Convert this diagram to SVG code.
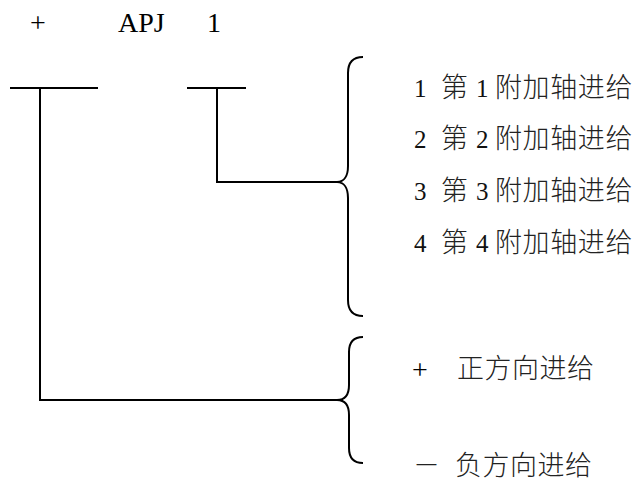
<svg xmlns="http://www.w3.org/2000/svg" width="636" height="482" viewBox="0 0 636 482">
<style>
.ln{fill:none;stroke:#000;stroke-width:2;stroke-linecap:butt;stroke-linejoin:miter}
.hd{font-family:"Liberation Serif","Times New Roman",serif;font-size:28px;fill:#000}
.lat{font-family:"Liberation Serif","Times New Roman",serif;font-size:25px;fill:#111}
.cjk{font-family:"Noto Sans CJK SC","Liberation Sans",sans-serif;font-size:27px;font-weight:300;fill:#222}
.opt{letter-spacing:0.6px}
</style>
<rect width="636" height="482" fill="#fff"/>
<g id="header">
<text class="hd" x="30" y="32">+</text>
<text class="hd" x="118" y="32">APJ</text>
<text class="hd" x="207" y="32">1</text>
</g>
<g id="connectors">
<path class="ln" d="M10,88H98M40,88V400H337"/>
<path class="ln" d="M187,88H246M217,88V182H337"/>
</g>
<g id="brace-axis">
<path class="ln" d="M363,57C352,57 348,63 348,73V166C348,176 344,182 337,182C344,182 348,188 348,198V300C348,310 352,316 363,316"/>
</g>
<g id="brace-direction">
<path class="ln" d="M363,337C353,337 349,343 349,352V385C349,395 345,400 337,400C345,400 349,405 349,415V448C349,457 353,463 363,463"/>
</g>
<g id="axis-options">
<g id="opt1"><text class="lat" x="414" y="97">1</text><text class="cjk" x="441" y="97">第</text><text class="lat" x="476" y="97">1</text><text class="cjk opt" x="495" y="97">附加轴进给</text></g>
<g id="opt2"><text class="lat" x="414" y="148">2</text><text class="cjk" x="441" y="148">第</text><text class="lat" x="476" y="148">2</text><text class="cjk opt" x="495" y="148">附加轴进给</text></g>
<g id="opt3"><text class="lat" x="414" y="200">3</text><text class="cjk" x="441" y="200">第</text><text class="lat" x="476" y="200">3</text><text class="cjk opt" x="495" y="200">附加轴进给</text></g>
<g id="opt4"><text class="lat" x="414" y="252">4</text><text class="cjk" x="441" y="252">第</text><text class="lat" x="476" y="252">4</text><text class="cjk opt" x="495" y="252">附加轴进给</text></g>
</g>
<g id="direction-options">
<g id="opt-plus"><text class="hd" x="412" y="379">+</text><text class="cjk" x="457" y="378" letter-spacing="0.5">正方向进给</text></g>
<g id="opt-minus"><text class="cjk" x="413" y="475">－</text><text class="cjk" x="455" y="475" letter-spacing="0.5">负方向进给</text></g>
</g>
</svg>
